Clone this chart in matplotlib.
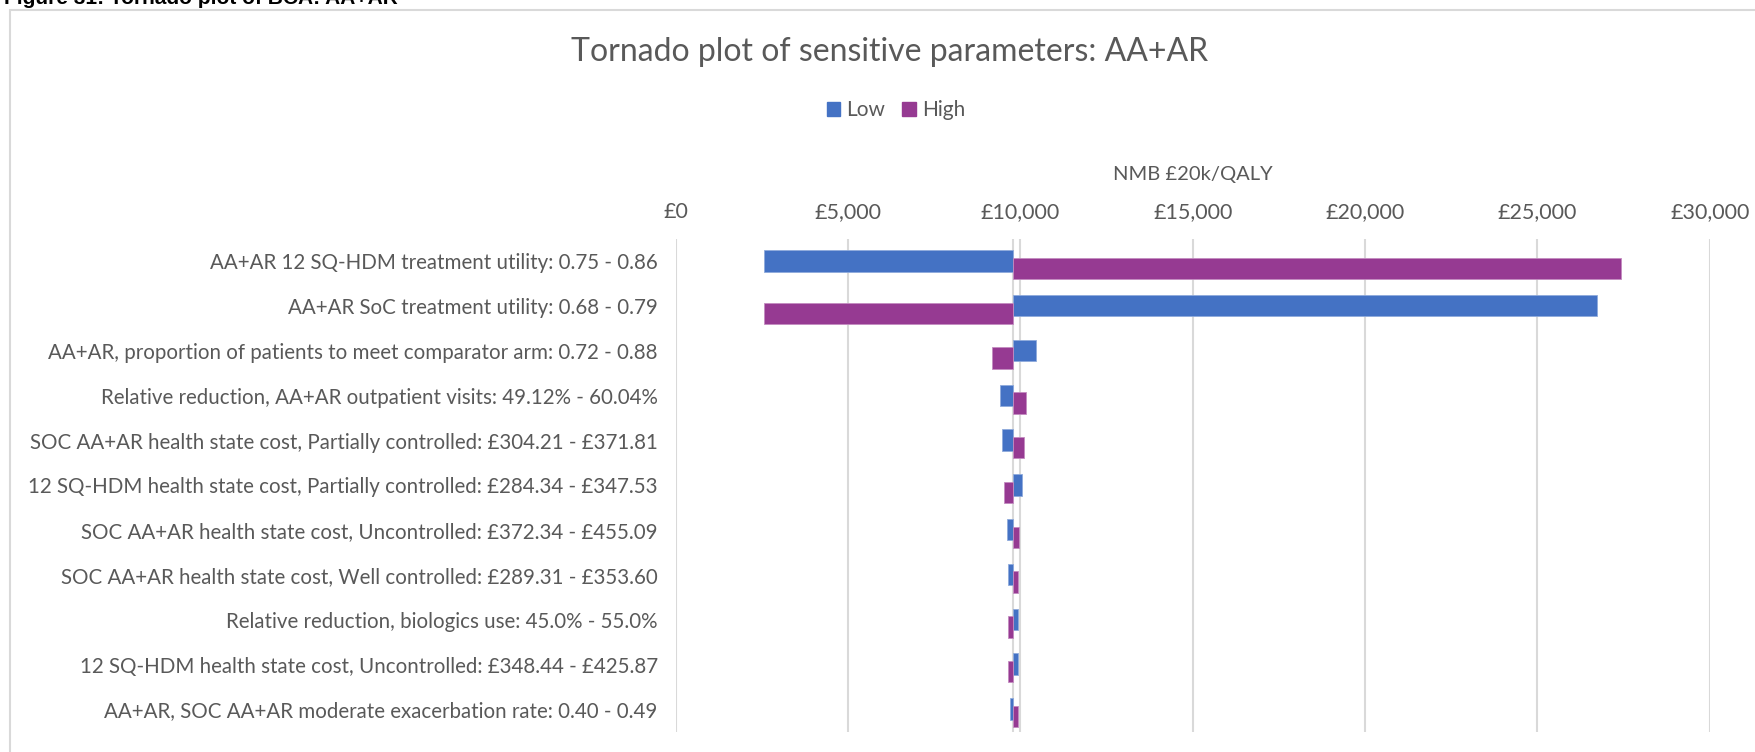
import numpy as np
import matplotlib.pyplot as plt
from matplotlib.patches import Rectangle, Patch

plt.rcParams['font.family'] = ['Lato', 'DejaVu Sans']

# 資料
params = [
    'AA+AR 12 SQ-HDM treatment utility: 0.75 - 0.86',
    'AA+AR SoC treatment utility: 0.68 - 0.79',
    'AA+AR, proportion of patients to meet comparator arm: 0.72 - 0.88',
    'Relative reduction, AA+AR outpatient visits: 49.12% - 60.04%',
    'SOC AA+AR health state cost, Partially controlled: £304.21 - £371.81',
    '12 SQ-HDM health state cost, Partially controlled: £284.34 - £347.53',
    'SOC AA+AR health state cost, Uncontrolled: £372.34 - £455.09',
    'SOC AA+AR health state cost, Well controlled: £289.31 - £353.60',
    'Relative reduction, biologics use: 45.0% - 55.0%',
    '12 SQ-HDM health state cost, Uncontrolled: £348.44 - £425.87',
    'AA+AR, SOC AA+AR moderate exacerbation rate: 0.40 - 0.49',
]
low = [2570, 26740, 10444, 9400, 9475, 10055, 9611, 9649, 9922, 9922, 9690]
high = [27420, 2570, 9167, 10171, 10096, 9515, 9959, 9922, 9649, 9649, 9922]
base = 9780
xticks = [0, 5000, 10000, 15000, 20000, 25000, 30000]

blue = '#4472C4'
purple = '#963A92'
grey = '#595959'
gridc = '#D9D9D9'

W, H = 1756, 752
fig = plt.figure(figsize=(W / 100, H / 100), dpi=100)

# 外框與上方被裁切的標題
fig.patches.append(Rectangle((10 / W, -0.1), 1.2, 1 - 10 / H + 0.1, transform=fig.transFigure,
                             fill=False, edgecolor=gridc, linewidth=1.5))
fig.text(0.002, 1 - 4 / H, 'Figure 31: Tornado plot of BCA: AA+AR', fontsize=15, fontweight='bold',
         family='Liberation Sans', va='baseline', ha='left', color='black')

ax = fig.add_axes([675.7 / W, (H - 731.7) / H, 1034 / W, (731.7 - 239) / H])

y = np.arange(len(params))
low_arr = np.array(low) - base
high_arr = np.array(high) - base
ax.barh(y - 0.01, low_arr, left=base, height=0.48, color=blue, edgecolor='#8FAADC', linewidth=0.6, zorder=3)
ax.barh(y + 0.16, high_arr, left=base, height=0.48, color=purple, edgecolor='#C38CC0', linewidth=0.6, zorder=3)

ax.set_xlim(0, 30000)
ax.set_ylim(len(params) - 0.5, -0.5)
ax.set_xticks(xticks)
ax.set_xticklabels([f'£{v:,}' for v in xticks])
ax.xaxis.tick_top()
ax.xaxis.set_label_position('top')
ax.set_xlabel('NMB £20k/QALY', fontsize=14.5, color=grey, labelpad=16)
ax.set_yticks(y)
ax.set_yticklabels(params)
ax.tick_params(axis='y', length=0, pad=13, labelsize=14.8, labelcolor=grey)
ax.tick_params(axis='x', length=0, pad=12, labelsize=15.5, labelcolor=grey)
for s in ax.spines.values():
    s.set_visible(False)
ax.grid(axis='x', color=gridc, linewidth=1.5, zorder=0)
ax.axvline(base, color=gridc, linewidth=1.5, zorder=1)

fig.text(890 / W, 1 - 52 / H, 'Tornado plot of sensitive parameters: AA+AR', fontsize=23,
         color=grey, ha='center', va='center')
handles = [Patch(color=blue, label='Low'), Patch(color=purple, label='High')]
fig.legend(handles=handles, loc='center', bbox_to_anchor=(896 / W, 1 - 110 / H), ncol=2, frameon=False,
           fontsize=15, labelcolor=grey, handlelength=0.65, handleheight=0.65, handletextpad=0.3,
           columnspacing=0.8)

fig.savefig('out.png', dpi=100)
